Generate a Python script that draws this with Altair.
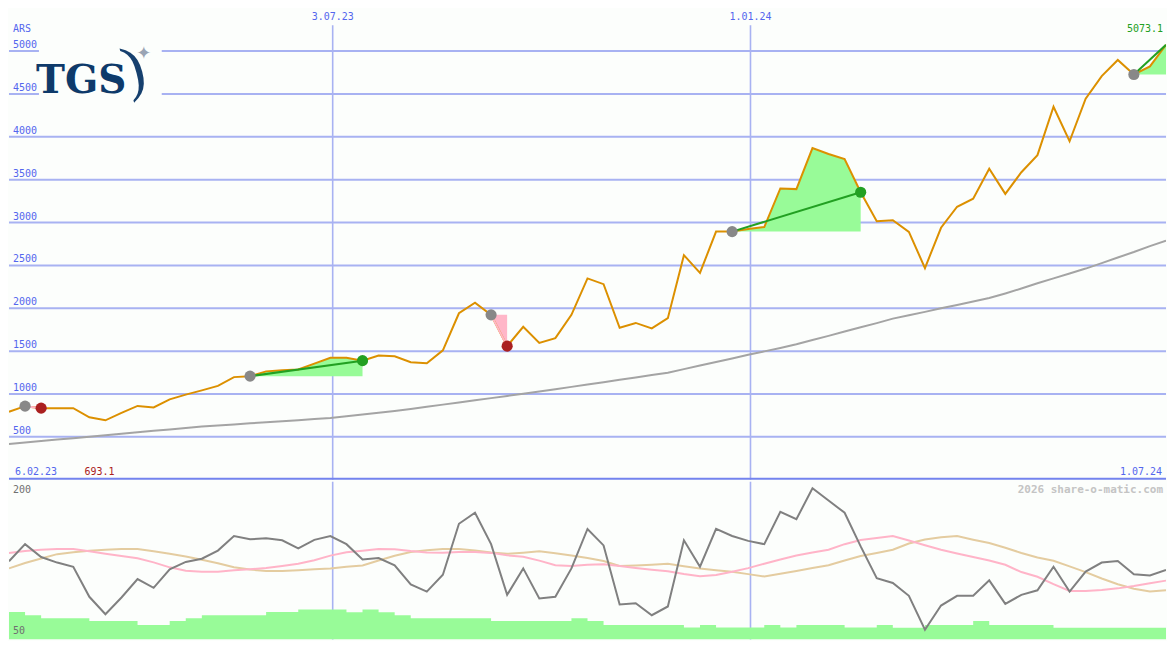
import altair as alt
import pandas as pd

# ---------------- data ----------------
dates = [d.strftime("%Y-%m-%d") for d in pd.date_range("2023-02-12", periods=73, freq="7D")]

price = [793, 858, 835, 835, 835, 728, 693.1, 779, 861, 843,
         937, 993, 1042, 1095, 1197, 1208, 1264, 1276, 1287, 1355,
         1423, 1423, 1389, 1448, 1440, 1370, 1358, 1509, 1942, 2066,
         1923, 1558, 1784, 1595, 1652, 1923, 2348, 2281, 1773, 1829,
         1765, 1885, 2619, 2413, 2894, 2894, 2924, 2947, 3398, 3390,
         3869, 3799, 3740, 3353, 3014, 3026, 2890, 2469, 2939, 3184,
         3278, 3627, 3334, 3587, 3786, 4350, 3948, 4445, 4708, 4896,
         4727, 4821, 5073.1]

ma_long = [418, 435, 452, 469, 485, 502, 519, 536, 553, 570, 586, 603, 620,
           633, 645, 658, 670, 682, 694, 707, 719,
           740, 760, 781, 802,
           825, 850, 876, 901, 926, 952, 977, 1002, 1028,
           1056, 1083, 1111, 1138, 1166, 1193, 1221, 1248,
           1290, 1333, 1374, 1414, 1457, 1497, 1537, 1581,
           1630, 1678, 1730, 1779, 1827, 1879,
           1919, 1958, 2000, 2039, 2078, 2120,
           2173, 2230, 2291, 2349, 2406, 2463,
           2527, 2592, 2656, 2725, 2789]

osc = [122.7, 140.3, 127, 121.3, 117, 86, 68, 85.3, 104.3, 95.3,
       114.3, 122, 125.3, 133.7, 148.7, 145.3, 146.3, 144.3, 136, 144.7,
       148.7, 140.3, 124.5, 126, 118.5, 98.7, 91.3, 108.7, 161.3, 172.7,
       140.3, 88, 115.3, 84.3, 86, 115.3, 156, 139, 78, 79.3,
       67, 76, 144.3, 117, 156, 148.7, 143.7, 140.3, 173.7, 166,
       198, 185.3, 172.7, 138, 105.3, 100.3, 87, 52, 77, 87,
       87, 103, 78.7, 88, 92.7, 117, 91.3, 112, 121.3, 123,
       109.3, 108, 113.7]

pink_avg = [131.3, 133.2, 134.5, 135.4, 135.4, 133, 130.5, 128.2, 125.7, 121.5,
            116.4, 112.8, 111.9, 111.8, 113.3, 114.5, 115.6, 117.7, 120.1, 123.7,
            128.5, 132, 133.6, 135.2, 135, 133.2, 131.8, 131.5, 132.2, 132.3,
            131.3, 128.8, 127.4, 123.3, 118.6, 117.8, 119, 119.6, 117.7, 115.7,
            114, 112.3, 109.5, 107.2, 108.6, 111.9, 115.6, 120.1, 124.5, 128.6,
            131.6, 134.5, 140.3, 144.5, 146.6, 148.7, 144, 139.2, 134.6, 130.7,
            127, 123.4, 119, 111.5, 106.7, 99.1, 92, 92, 93, 94.7,
            97.1, 99.9, 102.7]

tan_avg = [115.3, 120.8, 125.5, 130, 131.9, 133.6, 134.5, 135.3, 135.4, 133.1,
           130.5, 127.6, 124.3, 120.7, 116.5, 114.1, 112.6, 112.5, 113.4, 114.3,
           115.3, 117, 118.4, 123.4, 128.3, 132.2, 134.1, 135.3, 135.3, 133.7,
           131.8, 130.3, 131.5, 132.9, 130.9, 128.7, 126.1, 122.9, 117.7, 118.2,
           119, 120, 117.5, 115.2, 113.5, 111.8, 109.4, 107, 109.8, 112.7,
           115.6, 118.5, 123.5, 128, 131.2, 134.5, 141, 145.2, 147.4, 148.6,
           144.9, 141.4, 136.6, 131.2, 126.6, 123.1, 117.4, 111.5, 104.9, 98.9,
           94.3, 91.4, 92.7]

volume = [70.3, 67, 64, 64, 64, 61, 61, 61, 57, 57,
          61, 64, 67, 67, 67, 67, 70.3, 70.3, 73, 73,
          73, 70, 73, 70, 67, 64, 64, 64, 64, 64,
          61, 61, 61, 61, 61, 64, 61, 57, 57, 57,
          57, 57, 54.3, 57, 54.3, 54.3, 54.3, 57, 54.3, 57,
          57, 57, 54.3, 54.3, 57, 54, 54, 57, 57, 57,
          61, 57, 57, 57, 57, 54, 54, 54, 54, 54,
          54, 54, 54]

# trade signals: (start index, end index, kind)
signals = [(1, 2, "loss"), (15, 22, "gain"), (30, 31, "loss"), (45, 53, "gain"), (70, 72, "open")]

tick_values = [500, 1000, 1500, 2000, 2500, 3000, 3500, 4000, 4500, 5000]
tick_labels = [str(v) for v in tick_values]
vline_dates = ["2023-07-03", "2024-01-01"]
vline_labels = ["3.07.23", "1.01.24"]
start_label = "6.02.23"
end_label = "1.07.24"
currency = "ARS"
low_label = "693.1"
last_label = "5073.1"

# ---------------- frames ----------------
MAIN_TOP = 5496
LOW_MIN, LOW_MAX = 42, 204.7

df = pd.DataFrame({"date": dates, "price": price, "ma": ma_long, "osc": osc,
                   "pink": pink_avg, "tan": tan_avg, "vol": volume})
df["floor"] = LOW_MIN

area_rows, link_rows, dot_rows = [], [], []
for s, (a, b, kind) in enumerate(signals):
    fill = "loss" if kind == "loss" else "gain"
    for k in range(a, b + 1):
        area_rows.append({"date": dates[k], "price": price[k], "base": price[a], "seg": s, "kind": fill})
    for k in (a, b):
        link_rows.append({"date": dates[k], "price": price[k], "seg": s, "kind": fill})
    dot_rows.append({"date": dates[a], "price": price[a], "kind": "start"})
    if kind != "open":
        dot_rows.append({"date": dates[b], "price": price[b], "kind": kind})
area_df = pd.DataFrame(area_rows)
link_df = pd.DataFrame(link_rows)
dot_df = pd.DataFrame(dot_rows)
grid_df = pd.DataFrame({"v": tick_values, "label": tick_labels})
vl_df = pd.DataFrame({"date": vline_dates, "label": vline_labels,
                      "top": [5300] * 2, "bot": [0] * 2, "ty": [5402] * 2})
border_df = pd.DataFrame({"v": [12]})
ars_df = pd.DataFrame({"v": [5255], "label": [currency]})
logo_df = pd.DataFrame({"label": ["TGS"]})

# ---------------- styles ----------------
W = 1159
H1 = 472
H2 = 158
BG = "#FCFEFC"
GRID = "#A8B2F2"
LBL = "#5466EE"
MONO = "DejaVu Sans Mono"

xscale = alt.Scale(type="utc", domain=[alt.DateTime(year=2023, month=2, date=12, utc=True),
                                       alt.DateTime(year=2024, month=6, date=30, utc=True)])
X = alt.X("date:T", scale=xscale, axis=None)
yscale = alt.Scale(domain=[0, MAIN_TOP], nice=False, zero=False)
y2scale = alt.Scale(domain=[LOW_MIN, LOW_MAX], nice=False, zero=False)


def Ym(field):
    return alt.Y(field, scale=yscale, axis=None)


def Yl(field):
    return alt.Y(field, scale=y2scale, axis=None)


# ---------------- main panel ----------------
grid = alt.Chart(grid_df).mark_rule(color=GRID, strokeWidth=2).encode(y=Ym("v:Q"))
grid_text = alt.Chart(grid_df).mark_text(font=MONO, fontSize=10, color=LBL, align="left",
                                         baseline="middle", dy=-6).encode(
    x=alt.value(4), y=Ym("v:Q"), text="label:N")
vlines = alt.Chart(vl_df).mark_rule(color=GRID, strokeWidth=1.6).encode(
    x=X, y=Ym("top:Q"), y2="bot:Q")
vline_text = alt.Chart(vl_df).mark_text(font=MONO, fontSize=10, color=LBL, baseline="middle").encode(
    x=X, y=Ym("ty:Q"), text="label:N")

logo_bg = alt.Chart(logo_df).mark_rect(color=BG).encode(
    x=alt.value(30), x2=alt.value(153), y=alt.value(30), y2=alt.value(97))
logo_txt = alt.Chart(logo_df).mark_text(font="DejaVu Serif", fontWeight="bold", fontSize=39,
                                        color="#0E3A6A", align="left", baseline="alphabetic").encode(
    x=alt.value(27), y=alt.value(85), text="label:N")
logo_arc = alt.Chart(logo_df).mark_text(text=")", font="Liberation Serif", fontSize=62, angle=345,
                                        color="#16406E", align="center", baseline="middle").encode(
    x=alt.value(125), y=alt.value(61))
logo_star = alt.Chart(logo_df).mark_text(text="✦", font="DejaVu Sans", fontSize=18, color="#9AA4B4",
                                         baseline="middle").encode(x=alt.value(135), y=alt.value(46))

ma_line = alt.Chart(df).mark_line(color="#A4A4A4", strokeWidth=2, clip=True).encode(x=X, y=Ym("ma:Q"))
sig_area = alt.Chart(area_df).mark_area(clip=True, opacity=1).encode(
    x=X, y=Ym("price:Q"), y2="base:Q", detail="seg:N",
    color=alt.Color("kind:N", scale=alt.Scale(domain=["gain", "loss"], range=["#98FB98", "#FFB6C8"]),
                    legend=None))
price_line = alt.Chart(df).mark_line(color="#DC9000", strokeWidth=2, clip=True).encode(x=X, y=Ym("price:Q"))
links = alt.Chart(link_df).mark_line(strokeWidth=2, clip=True).encode(
    x=X, y=Ym("price:Q"), detail="seg:N",
    color=alt.Color("kind:N", scale=alt.Scale(domain=["gain", "loss"], range=["#22A022", "#FFB6C8"]),
                    legend=None))
dots = alt.Chart(dot_df).mark_circle(size=125, opacity=1).encode(
    x=X, y=Ym("price:Q"),
    color=alt.Color("kind:N", scale=alt.Scale(domain=["start", "loss", "gain"],
                                              range=["#888888", "#AA2020", "#22A022"]), legend=None))

border = alt.Chart(border_df).mark_rule(color="#7383EE", strokeWidth=2).encode(y=Ym("v:Q"))
ars = alt.Chart(ars_df).mark_text(font=MONO, fontSize=10, color=LBL, align="left",
                                  baseline="middle").encode(x=alt.value(4), y=Ym("v:Q"), text="label:N")
lbl_df = pd.DataFrame({"date": [dates[0], dates[-1], dates[6], dates[-1]],
                       "label": [start_label, end_label, low_label, last_label],
                       "y": [94, 94, 94, 5262],
                       "kind": ["s", "e", "low", "last"]})
start_txt = alt.Chart(lbl_df[lbl_df.kind == "s"]).mark_text(
    font=MONO, fontSize=10, color=LBL, align="left", baseline="middle", dx=6).encode(
    x=X, y=Ym("y:Q"), text="label:N")
end_txt = alt.Chart(lbl_df[lbl_df.kind == "e"]).mark_text(
    font=MONO, fontSize=10, color=LBL, align="right", baseline="middle", dx=-4).encode(
    x=X, y=Ym("y:Q"), text="label:N")
low_txt = alt.Chart(lbl_df[lbl_df.kind == "low"]).mark_text(
    font=MONO, fontSize=10, color="#AA2020", align="center", baseline="middle", dx=-6).encode(
    x=X, y=Ym("y:Q"), text="label:N")
last_txt = alt.Chart(lbl_df[lbl_df.kind == "last"]).mark_text(
    font=MONO, fontSize=10, color="#22A022", align="right", baseline="middle", dx=-3).encode(
    x=X, y=Ym("y:Q"), text="label:N")

main = alt.layer(grid, vlines, logo_bg, logo_txt, logo_arc, logo_star, grid_text, vline_text,
                 ma_line, sig_area, price_line, links, dots, border, ars,
                 start_txt, end_txt, low_txt, last_txt).resolve_scale(
    color="independent").properties(width=W, height=H1)

# ---------------- lower panel ----------------
vlines2 = alt.Chart(vl_df).mark_rule(color=GRID, strokeWidth=1.6).encode(x=X)
vol_area = alt.Chart(df).mark_area(color="#98FB98", interpolate="step-after", clip=True).encode(
    x=X, y=Yl("vol:Q"), y2="floor:Q")
tan_line = alt.Chart(df).mark_line(color="#E4CCA0", strokeWidth=2, clip=True).encode(x=X, y=Yl("tan:Q"))
pink_line = alt.Chart(df).mark_line(color="#FFB4C8", strokeWidth=2, clip=True).encode(x=X, y=Yl("pink:Q"))
osc_line = alt.Chart(df).mark_line(color="#808080", strokeWidth=2, clip=True).encode(x=X, y=Yl("osc:Q"))
low_lbl_df = pd.DataFrame({"v": [196.5, 51], "label": ["200", "50"]})
low_lbls = alt.Chart(low_lbl_df).mark_text(font=MONO, fontSize=10, color="#707070", align="left",
                                           baseline="middle").encode(
    x=alt.value(4), y=Yl("v:Q"), text="label:N")
credit_df = pd.DataFrame({"date": [dates[-1]], "v": [196], "label": ["2026 share-o-matic.com"]})
credit = alt.Chart(credit_df).mark_text(
    font=MONO, fontSize=11, fontWeight="bold", color="#C4C4C4", align="right", baseline="middle", dx=-3).encode(
    x=X, y=Yl("v:Q"), text="label:N")

lower = alt.layer(vlines2, vol_area, tan_line, pink_line, osc_line, low_lbls, credit).properties(
    width=W, height=H2)

chart = alt.vconcat(main, lower, spacing=0, padding=0, background=BG).configure_view(stroke=None)

chart.save("out.html", embed_options={"renderer": "svg", "actions": False})
